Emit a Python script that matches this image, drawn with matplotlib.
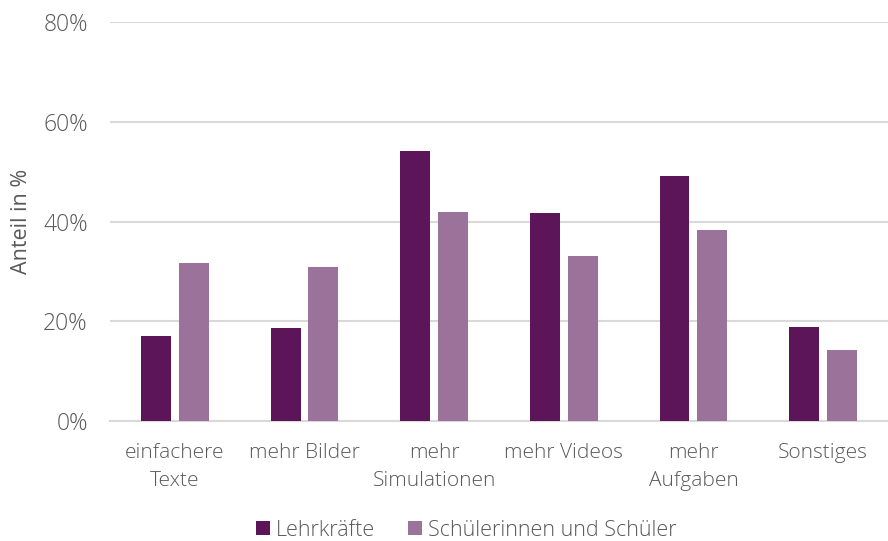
import numpy as np
import matplotlib.pyplot as plt

plt.rcParams['font.family'] = ['Open Sans', 'DejaVu Sans']
plt.rcParams['font.weight'] = 'light'

categories = ['einfachere\nTexte', 'mehr Bilder', 'mehr\nSimulationen', 'mehr Videos', 'mehr\nAufgaben', 'Sonstiges']
lehrkraefte = [17.0, 18.6, 54.1, 41.7, 49.1, 18.8]
schueler = [31.7, 30.9, 41.9, 33.1, 38.3, 14.2]
yticks = [0, 20, 40, 60, 80]

text_col = '#595959'
grid_col = '#d9d9d9'

fig = plt.figure(figsize=(8.88, 5.41), dpi=100)
ax = fig.add_axes([0.1239, 0.2218, 0.876, 0.7375])

x = np.arange(len(categories))
w = 0.231
ax.bar(x - 0.146, lehrkraefte, w, color='#5c1558', label='Lehrkräfte', zorder=3)
ax.bar(x + 0.146, schueler, w, color='#9b7299', label='Schülerinnen und Schüler', zorder=3)

ax.set_xlim(-0.5, 5.5)
ax.set_ylim(0, 80)
ax.set_yticks(yticks)
ax.set_yticklabels([f'{v}%' for v in yticks])
ax.set_xticks(x)
ax.set_xticklabels(categories, linespacing=1.5)
ax.grid(axis='y', color=grid_col, linewidth=1.5, zorder=0)
for s in ['top', 'right', 'left']:
    ax.spines[s].set_visible(False)
ax.spines['bottom'].set_color(grid_col)
ax.spines['bottom'].set_linewidth(1.5)
ax.tick_params(length=0, labelsize=15, labelcolor=text_col)
ax.tick_params(axis='x', pad=16)
ax.tick_params(axis='y', labelsize=16.5, pad=16)
ax.set_ylabel('Anteil in %', fontsize=15.5, color=text_col, labelpad=8)

ax.legend(loc='upper center', bbox_to_anchor=(0.458, -0.215), ncol=2, frameon=False,
          fontsize=15.5, labelcolor=text_col, handlelength=0.65, handleheight=0.65,
          handletextpad=0.3, columnspacing=1.5, borderaxespad=0.2)

fig.savefig('out.png', dpi=100)
